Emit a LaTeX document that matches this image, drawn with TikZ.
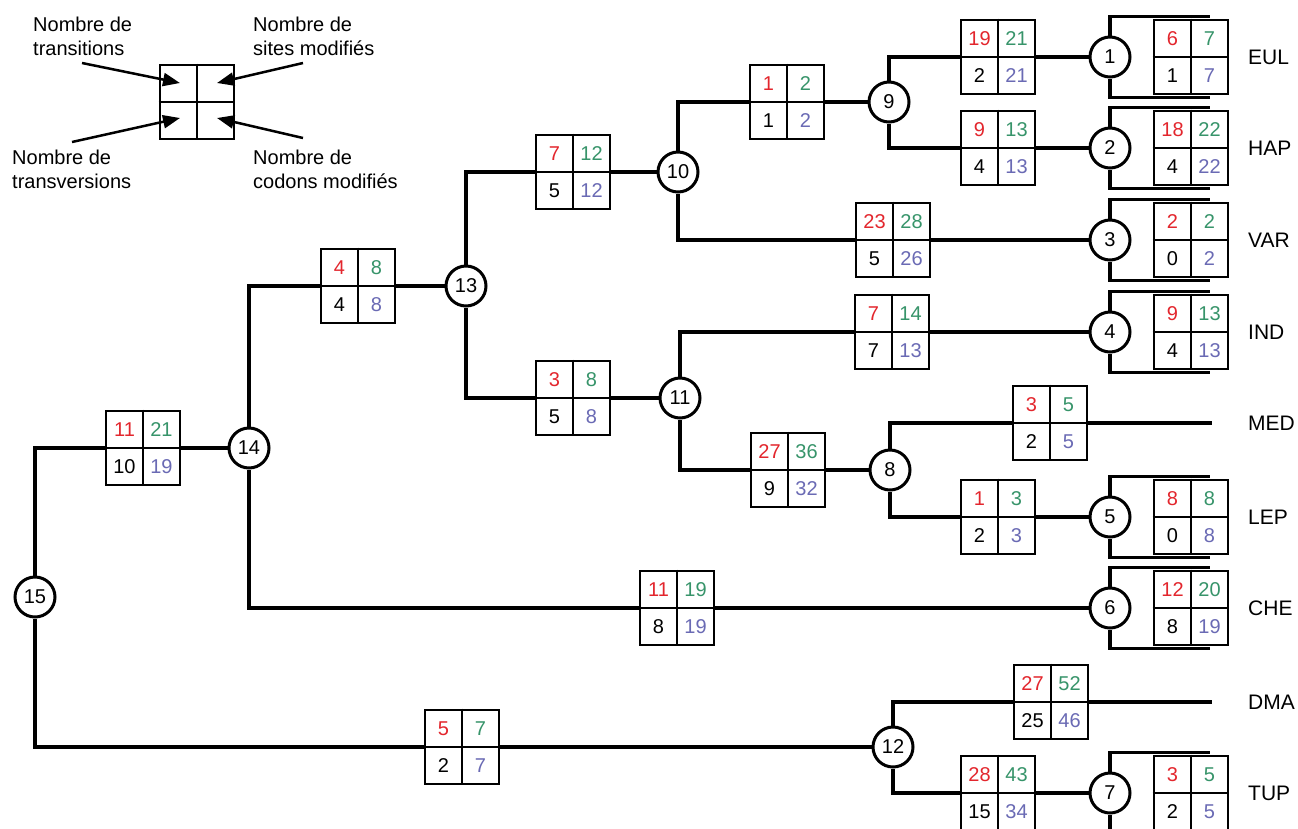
\documentclass[tikz,border=0pt]{standalone}
\usepackage{fontspec}
\setmainfont{Liberation Sans}
\usetikzlibrary{arrows.meta}
\definecolor{tsred}{HTML}{E3262D}
\definecolor{smgreen}{HTML}{37946A}
\definecolor{cmblue}{HTML}{6A6AB4}

\begin{document}
\begin{tikzpicture}[x=1pt,y=-1pt,
 n/.style={circle,draw,line width=3pt,fill=white,minimum size=40pt,inner sep=0pt,font=\fontsize{20}{22}\selectfont},
 line/.style={line width=3.5pt},
 cell/.style={draw,line width=2.8pt,fill=white,minimum size=74pt,inner sep=0pt},
 cross/.style={line width=2.8pt},
 num/.style={inner sep=0pt,font=\fontsize{20}{22}\selectfont},
 lab/.style={anchor=west,inner sep=0pt,font=\fontsize{21}{23}\selectfont},
 note/.style={anchor=north west,align=left,inner sep=0pt,font=\fontsize{20}{24}\selectfont},
 pointer/.style={line width=2.5pt,-{Triangle[length=17pt,width=13pt]}}]
 \useasboundingbox (0,0) rectangle (1298,828);
 % legend
 \node[cell] (leg) at (197,102) {};
 \draw[cross] (leg.north)--(leg.south) (leg.west)--(leg.east);
 \node[note] (ntr) at (33,17) {Nombre de\\transitions};
 \node[note] (nsm) at (253,17) {Nombre de\\sites modifiés};
 \node[note] (ntv) at (12,150) {Nombre de\\transversions};
 \node[note] (ncm) at (253,150) {Nombre de\\codons modifiés};
 \coordinate (ptr) at (82,63);  \coordinate (ttr) at (180,83);
 \coordinate (psm) at (303,63); \coordinate (tsm) at (217,83);
 \coordinate (ptv) at (72,142); \coordinate (ttv) at (180,118);
 \coordinate (pcm) at (303,138); \coordinate (tcm) at (217,118);
 \foreach \a in {tr,sm,tv,cm} \draw[pointer] (p\a) -- (t\a);
 % tree nodes
 \foreach \k/\x/\y in {15/35/597,14/249/448,13/466/286,10/678/172,11/680/398,
   9/889/102,8/890/470,12/893/747,1/1110/57,2/1110/148,3/1110/240,4/1110/332,
   5/1110/517,6/1110/608,7/1110/793}
   \node[n] (n\k) at (\x,\y) {\k};
 \coordinate (med) at (1212,423);
 \coordinate (dma) at (1212,702);
 \foreach \p/\c in {15/14,15/12,14/13,14/6,13/10,13/11,10/9,10/3,9/1,9/2,
   11/4,11/8,8/5,12/7}
   \draw[line] (n\p) |- (n\c);
 \draw[line] (n8) |- (med);
 \draw[line] (n12) |- (dma);
 \foreach \k in {1,...,7}{
   \draw[line] (n\k.north) |- ++(100,-19);
   \draw[line] (n\k.south) |- ++(100,19);
 }
 % substitution boxes
 \foreach \k/\x/\y/\ts/\sm/\tv/\cm in {14/143/448/11/21/10/19,12/462/747/5/7/2/7,
   13/358/286/4/8/4/8,6/677/608/11/19/8/19,10/573/172/7/12/5/12,11/573/398/3/8/5/8,
   9/787/102/1/2/1/2,3/893/240/23/28/5/26,1/998/57/19/21/2/21,2/998/148/9/13/4/13,
   4/892/332/7/14/7/13,8/788/470/27/36/9/32,MED/1050/423/3/5/2/5,5/998/517/1/3/2/3,
   DMA/1051/702/27/52/25/46,7/998/793/28/43/15/34,
   f1/1191/57/6/7/1/7,f2/1191/148/18/22/4/22,f3/1191/240/2/2/0/2,f4/1191/332/9/13/4/13,
   f5/1191/517/8/8/0/8,f6/1191/608/12/20/8/19,f7/1191/793/3/5/2/5}{
   \node[cell] (b\k) at (\x,\y) {};
   \draw[cross] (b\k.north)--(b\k.south) (b\k.west)--(b\k.east);
   \node[num,text=tsred] (b\k-ts) at (\x-18.5,\y-18.5) {\ts};
   \node[num,text=smgreen] (b\k-sm) at (\x+18.5,\y-18.5) {\sm};
   \node[num] (b\k-tv) at (\x-18.5,\y+18.5) {\tv};
   \node[num,text=cmblue] (b\k-cm) at (\x+18.5,\y+18.5) {\cm};
 }
 % species
 \foreach \t/\y in {EUL/57,HAP/148,VAR/240,IND/332,MED/423,LEP/517,CHE/608,DMA/702,TUP/793}
   \node[lab] (l\t) at (1248,\y) {\t};
\end{tikzpicture}
\end{document}
